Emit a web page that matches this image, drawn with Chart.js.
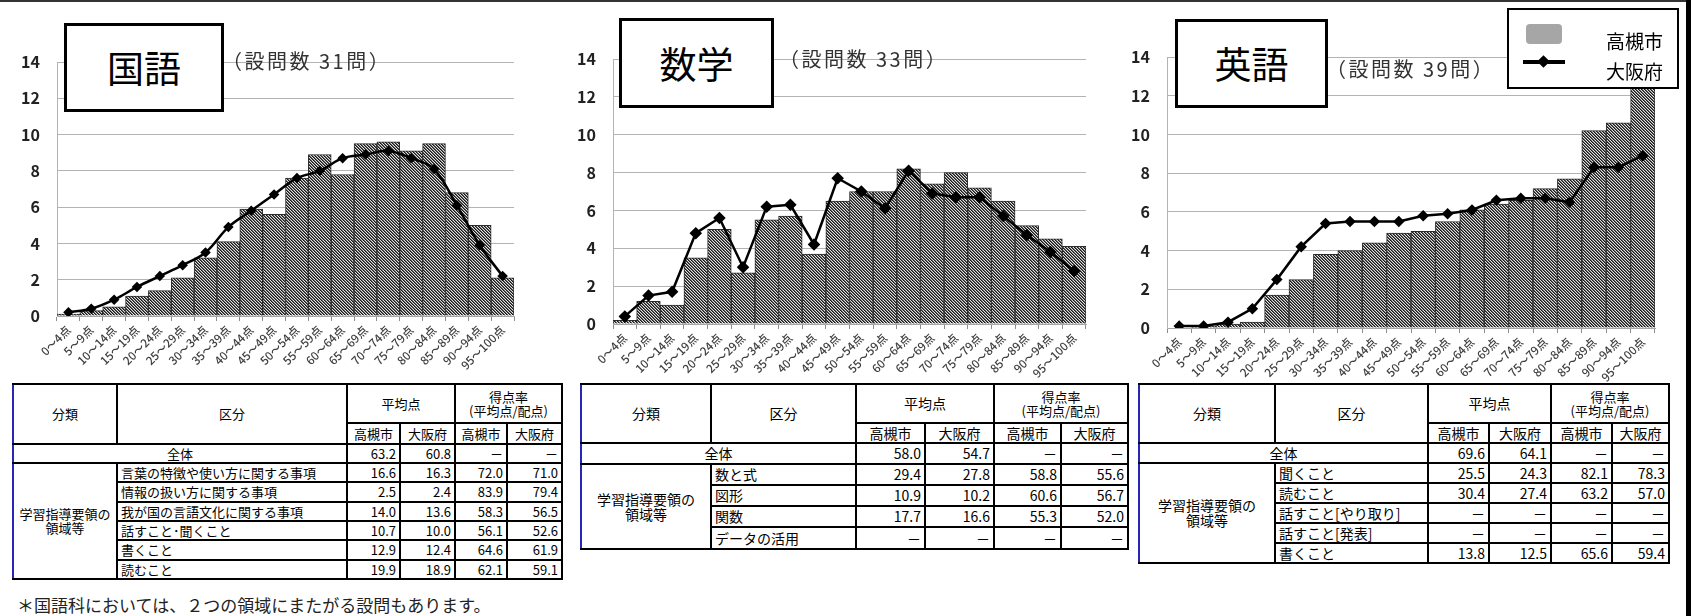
<!DOCTYPE html>
<html lang="ja">
<head>
<meta charset="utf-8">
<script src="https://cdn.jsdelivr.net/npm/chart.js@4.4.1/dist/chart.umd.min.js"></script>
<style>
body{margin:0;width:1691px;height:616px;background:#fff;position:relative;overflow:hidden;font-family:"Noto Sans CJK JP",sans-serif;color:#000;}
canvas{position:absolute;top:0;}
.titlebox{position:absolute;border:3px solid #000;background:#fff;box-sizing:border-box;display:flex;align-items:center;justify-content:center;font-size:37px;line-height:1;z-index:2;}
.count{position:absolute;font-size:20px;letter-spacing:2.5px;color:#333;line-height:1;white-space:nowrap;z-index:2;}
#legend{position:absolute;left:1507px;top:8px;width:172px;height:81px;border:2px solid #000;background:#fff;box-sizing:border-box;z-index:3;}
#legend div{position:absolute;}
#legend .lt{font-size:19px;line-height:1;right:14px;}
table{position:absolute;top:383px;border-collapse:collapse;table-layout:fixed;}
td,th{border:2px solid #000;padding:0 3px;font-weight:normal;line-height:1.05;white-space:nowrap;overflow:hidden;}
th{text-align:center;}
td.n{text-align:right;}
td.c{text-align:center;}
.lb{border-left-color:#2626b8;}
#t1{font-size:13px;left:12px;}
#t2{font-size:14px;left:580px;}
#t3{font-size:14px;left:1138px;}
th.h{font-size:13px;}
#note{position:absolute;left:17px;top:596px;font-size:17px;color:#222;line-height:1;white-space:nowrap;}
#topline{position:absolute;left:0;top:0;width:1686px;height:2px;background:#333;}
#rightbar{position:absolute;left:1686px;top:0;width:5px;height:616px;background:#000;}
</style>
</head>
<body>
<div id="topline"></div>
<div id="rightbar"></div>

<canvas id="c1" width="545" height="382" style="left:0"></canvas>
<canvas id="c2" width="545" height="382" style="left:560px"></canvas>
<canvas id="c3" width="566" height="382" style="left:1120px"></canvas>

<div class="titlebox" style="left:64px;top:23px;width:160px;height:89px">国語</div>
<div class="count" style="left:222px;top:51px">（設問数 31問）</div>
<div class="titlebox" style="left:619px;top:18px;width:155px;height:90px">数学</div>
<div class="count" style="left:779px;top:49px">（設問数 33問）</div>
<div class="titlebox" style="left:1175px;top:19px;width:153px;height:89px">英語</div>
<div class="count" style="left:1326px;top:59px">（設問数 39問）</div>

<div id="legend">
  <div style="left:17px;top:14px;width:36px;height:20px;background:#a6a6a6;border-radius:4px"></div>
  <div style="left:14px;top:50px;width:42px;height:4px;background:#000"></div>
  <div style="left:30px;top:47px;width:9px;height:9px;background:#000;transform:rotate(45deg)"></div>
  <div class="lt" style="top:21px">高槻市</div>
  <div class="lt" style="top:51px">大阪府</div>
</div>

<table id="t1"></table>
<table id="t2"></table>
<table id="t3"></table>

<div id="note">＊国語科においては、２つの領域にまたがる設問もあります。</div>

<script>
const FONT='"Noto Sans CJK JP", sans-serif';

// 得点分布（%）
const scoreBands=["0～4点","5～9点","10～14点","15～19点","20～24点","25～29点","30～34点","35～39点","40～44点","45～49点",
  "50～54点","55～59点","60～64点","65～69点","70～74点","75～79点","80～84点","85～89点","90～94点","95～100点"];

const kokugoTakatsuki=[0.1,0.3,0.5,1.1,1.4,2.1,3.2,4.1,5.9,5.6,7.6,8.9,7.8,9.5,9.6,9.1,9.5,6.8,5.0,2.1];
const kokugoOsaka=[0.2,0.4,0.9,1.6,2.2,2.8,3.5,4.9,5.8,6.7,7.6,8.0,8.7,8.9,9.1,8.7,8.1,6.1,3.9,2.2];

const sugakuTakatsuki=[0.2,1.2,1.0,3.5,5.0,2.7,5.5,5.7,3.7,6.5,7.0,7.0,8.2,7.4,8.0,7.2,6.5,5.2,4.5,4.1];
const sugakuOsaka=[0.4,1.5,1.7,4.8,5.6,3.0,6.2,6.3,4.2,7.7,7.0,6.1,8.1,6.9,6.7,6.7,5.7,4.7,3.8,2.8];

const eigoTakatsuki=[0.0,0.1,0.2,0.3,1.7,2.5,3.8,4.0,4.4,4.9,5.0,5.5,6.1,6.4,6.6,7.2,7.7,10.2,10.6,12.9];
const eigoOsaka=[0.1,0.1,0.3,1.0,2.5,4.2,5.4,5.5,5.5,5.5,5.8,5.9,6.1,6.6,6.7,6.7,6.5,8.3,8.3,8.9];

// 領域別の平均点・得点率  [区分, 高槻市平均, 大阪府平均, 高槻市率, 大阪府率]
const kokugoTotal=["63.2","60.8","－","－"];
const kokugoAreas=[
  ["言葉の特徴や使い方に関する事項","16.6","16.3","72.0","71.0"],
  ["情報の扱い方に関する事項","2.5","2.4","83.9","79.4"],
  ["我が国の言語文化に関する事項","14.0","13.6","58.3","56.5"],
  ["話すこと･聞くこと","10.7","10.0","56.1","52.6"],
  ["書くこと","12.9","12.4","64.6","61.9"],
  ["読むこと","19.9","18.9","62.1","59.1"]
];
const sugakuTotal=["58.0","54.7","－","－"];
const sugakuAreas=[
  ["数と式","29.4","27.8","58.8","55.6"],
  ["図形","10.9","10.2","60.6","56.7"],
  ["関数","17.7","16.6","55.3","52.0"],
  ["データの活用","－","－","－","－"]
];
const eigoTotal=["69.6","64.1","－","－"];
const eigoAreas=[
  ["聞くこと","25.5","24.3","82.1","78.3"],
  ["読むこと","30.4","27.4","63.2","57.0"],
  ["話すこと[やり取り]","－","－","－","－"],
  ["話すこと[発表]","－","－","－","－"],
  ["書くこと","13.8","12.5","65.6","59.4"]
];

// 斜線ハッチのタイル
const tile=document.createElement('canvas');
tile.width=tile.height=3;
(function(){
  const g=tile.getContext('2d');
  const img=g.createImageData(3,3);
  const shade=[25,100,225];
  for(let y=0;y<3;y++)for(let x=0;x<3;x++){
    const v=shade[((x-y)%3+3)%3];
    const i=(y*3+x)*4;
    img.data[i]=img.data[i+1]=img.data[i+2]=v;img.data[i+3]=255;
  }
  g.putImageData(img,0,0);
})();

function drawChart(id,city,pref,box){
  const ctx=document.getElementById(id).getContext('2d');
  return new Chart(ctx,{
    type:'bar',
    data:{
      labels:scoreBands,
      datasets:[
        {type:'line',label:'大阪府',data:pref,borderColor:'#000',borderWidth:2.5,
         pointStyle:'rectRot',pointRadius:box.r,pointBackgroundColor:'#000',pointBorderColor:'#000',
         tension:box.tension,order:0},
        {type:'bar',label:'高槻市',data:city,backgroundColor:ctx.createPattern(tile,'repeat'),
         borderColor:'#2b2b2b',borderWidth:1,barPercentage:1,categoryPercentage:1,order:1}
      ]
    },
    options:{
      responsive:false,
      animation:false,
      devicePixelRatio:1,
      layout:{padding:{top:box.top,right:box.right,left:0,bottom:0}},
      plugins:{legend:{display:false},tooltip:{enabled:false}},
      scales:{
        x:{
          offset:true,
          grid:{offset:true,drawOnChartArea:false,tickLength:5,color:'#8c8c8c'},
          border:{color:'#a6a6a6'},
          ticks:{autoSkip:false,minRotation:45,maxRotation:45,padding:2,color:'#404040',font:{family:FONT,size:11.5,weight:'500'}},
          afterFit:s=>{s.height=box.xh;}
        },
        y:{
          min:0,max:14,
          ticks:{stepSize:2,padding:17,color:'#222',font:{family:FONT,size:16,weight:'bold'}},
          grid:{color:'#b3b3b3',drawTicks:false},
          border:{color:'#b3b3b3'},
          afterFit:s=>{s.width=box.yw;}
        }
      }
    }
  });
}

drawChart('c1',kokugoTakatsuki,kokugoOsaka,{yw:57,xh:66,top:62,right:31,r:3.5,tension:0.35});
drawChart('c2',sugakuTakatsuki,sugakuOsaka,{yw:53,xh:58,top:59,right:19,r:4.5,tension:0});
drawChart('c3',eigoTakatsuki,eigoOsaka,{yw:47,xh:54,top:57,right:31,r:4,tension:0});

function buildTable(id,cols,heights,total,areas){
  const t=document.getElementById(id);
  let h='<colgroup>'+cols.map(w=>'<col style="width:'+w+'px">').join('')+'</colgroup>';
  h+='<tr style="height:'+heights[0]+'px"><th class="lb" rowspan="2">分類</th><th rowspan="2">区分</th>'+
     '<th colspan="2">平均点</th><th class="h" colspan="2">得点率<br>(平均点/配点)</th></tr>';
  h+='<tr style="height:'+heights[1]+'px"><th>高槻市</th><th>大阪府</th><th>高槻市</th><th>大阪府</th></tr>';
  h+='<tr style="height:'+heights[2]+'px"><td class="c lb" colspan="2">全体</td>'+total.map(v=>'<td class="n">'+v+'</td>').join('')+'</tr>';
  areas.forEach((row,i)=>{
    h+='<tr style="height:'+heights[3+i]+'px">';
    if(i===0)h+='<td class="c lb" rowspan="'+areas.length+'">学習指導要領の<br>領域等</td>';
    h+='<td>'+row[0]+'</td>'+row.slice(1).map(v=>'<td class="n">'+v+'</td>').join('')+'</tr>';
  });
  t.innerHTML=h;
}

buildTable('t1',[104,230,53,55,52,55],[39,21,19,19,20,19,19,20,19],kokugoTotal,kokugoAreas);
buildTable('t2',[130,145,69,69,67,67],[39,20,21,21,21,21,22],sugakuTotal,sugakuAreas);
buildTable('t3',[136,153,61,62,61,57],[39,20,20,20,20,20,20,20],eigoTotal,eigoAreas);
</script>
</body>
</html>
